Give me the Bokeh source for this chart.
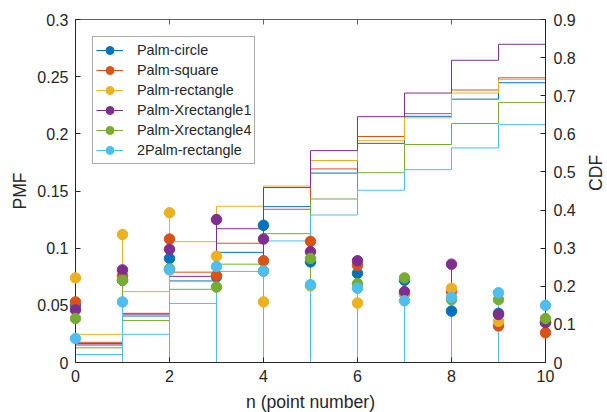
import math
from bokeh.plotting import figure
from bokeh.models import (LinearAxis, Range1d, FixedTicker, CustomJSTickFormatter,
                          Legend, LegendItem, ColumnDataSource)
from bokeh.embed import file_html
from bokeh.resources import INLINE

n = [0, 1, 2, 3, 4, 5, 6, 7, 8, 9, 10]

names = ["Palm-circle", "Palm-square", "Palm-rectangle",
         "Palm-Xrectangle1", "Palm-Xrectangle4", "2Palm-rectangle"]
colors = ["#0072BD", "#D95319", "#EDB120", "#7E2F8E", "#77AC30", "#4DBEEE"]

pmf_circle = [0.050, 0.072, 0.091, 0.075, 0.120, 0.088, 0.078, 0.072, 0.045, 0.043, 0.035]
pmf_square = [0.053, 0.076, 0.108, 0.076, 0.089, 0.106, 0.085, 0.060, 0.062, 0.032, 0.026]
pmf_rect = [0.074, 0.112, 0.131, 0.093, 0.053, 0.067, 0.052, 0.060, 0.065, 0.036, 0.037]
pmf_xrect1 = [0.046, 0.081, 0.099, 0.125, 0.108, 0.097, 0.089, 0.062, 0.086, 0.042, 0.035]
pmf_xrect4 = [0.0385, 0.072, 0.082, 0.066, 0.080, 0.091, 0.069, 0.074, 0.055, 0.055, 0.0385]
pmf_2palm = [0.021, 0.053, 0.081, 0.084, 0.080, 0.068, 0.065, 0.054, 0.057, 0.061, 0.050]

cdf_circle = [0.050, 0.122, 0.214, 0.289, 0.409, 0.497, 0.575, 0.646, 0.691, 0.734, 0.769]
cdf_square = [0.053, 0.129, 0.237, 0.313, 0.402, 0.508, 0.593, 0.653, 0.715, 0.747, 0.773]
cdf_rect = [0.074, 0.186, 0.317, 0.410, 0.463, 0.530, 0.582, 0.642, 0.707, 0.743, 0.780]
cdf_xrect1 = [0.046, 0.127, 0.226, 0.351, 0.459, 0.556, 0.645, 0.707, 0.793, 0.835, 0.870]
cdf_xrect4 = [0.0385, 0.110, 0.192, 0.258, 0.338, 0.429, 0.498, 0.572, 0.627, 0.682, 0.720]
cdf_2palm = [0.021, 0.074, 0.155, 0.239, 0.319, 0.387, 0.452, 0.506, 0.563, 0.624, 0.674]

x_ticks = [0, 2, 4, 6, 8, 10]
pmf_ticks = [0, 0.05, 0.1, 0.15, 0.2, 0.25, 0.3]
cdf_ticks = [0, 0.1, 0.2, 0.3, 0.4, 0.5, 0.6, 0.7, 0.8, 0.9]

pmfs = [pmf_circle, pmf_square, pmf_rect, pmf_xrect1, pmf_xrect4, pmf_2palm]
cdfs = [cdf_circle, cdf_square, cdf_rect, cdf_xrect1, cdf_xrect4, cdf_2palm]

FONT = "Liberation Sans"
TXT = "#262626"

p = figure(frame_width=470, frame_height=343,
           min_border_left=75, min_border_right=62, min_border_top=19, min_border_bottom=50,
           x_range=Range1d(0, 10), y_range=Range1d(0, 0.3),
           output_backend="svg", toolbar_location=None)
p.extra_y_ranges = {"cdf": Range1d(0, 0.9)}
p.grid.visible = False
p.outline_line_color = None
p.background_fill_color = "white"
p.border_fill_color = "white"


def style_axis(ax, color=TXT):
    ax.axis_line_color = color
    ax.major_tick_line_color = color
    ax.major_tick_in = 5
    ax.major_tick_out = 0
    ax.minor_tick_line_color = None
    ax.major_label_text_font = FONT
    ax.major_label_text_font_size = "16px"
    ax.major_label_text_color = TXT
    ax.axis_label_text_font = FONT
    ax.axis_label_text_font_size = "17.6px"
    ax.axis_label_text_font_style = "normal"
    ax.axis_label_text_color = TXT


xa = p.below[0]
xa.ticker = FixedTicker(ticks=x_ticks)
xa.axis_label = "n (point number)"
style_axis(xa)
xa.major_label_standoff = 7
xa.axis_label_standoff = 7

ya = p.left[0]
ya.ticker = FixedTicker(ticks=pmf_ticks)
ya.formatter = CustomJSTickFormatter(code="return String(Math.round(tick*100)/100);")
ya.axis_label = "PMF"
style_axis(ya)
ya.major_label_standoff = 7
ya.axis_label_standoff = 4

ra = LinearAxis(y_range_name="cdf", ticker=FixedTicker(ticks=cdf_ticks),
                formatter=CustomJSTickFormatter(code="return String(Math.round(tick*10)/10);"),
                axis_label="CDF")
style_axis(ra)
ra.major_label_standoff = 8
ra.axis_label_standoff = 17
ra.axis_label_orientation = math.pi / 2
p.add_layout(ra, "right")

ta = LinearAxis(ticker=FixedTicker(ticks=x_ticks),
                formatter=CustomJSTickFormatter(code="return '';"))
style_axis(ta, "#606060")
ta.major_label_standoff = 0
ta.major_label_text_font_size = "1px"
p.add_layout(ta, "above")

items = []
# stairs (CDF)
for name, c, pm, cd in zip(names, colors, pmfs, cdfs):
    src = ColumnDataSource(dict(n=n, pmf=pm, cdf=cd))
    p.step(x="n", y="cdf", mode="after", y_range_name="cdf", source=src,
           line_color=c, line_width=1)

# stems + markers (PMF)
for name, c, pm, cd in zip(names, colors, pmfs, cdfs):
    src = ColumnDataSource(dict(n=n, pmf=pm, cdf=cd))
    seg = p.segment(x0="n", y0=0, x1="n", y1="pmf", source=src,
                    line_color=c, line_width=1)
    sc = p.scatter(x="n", y="pmf", source=src, size=10.5, marker="circle",
                   fill_color=c, line_color=c, level="overlay")
    items.append(LegendItem(label=name, renderers=[seg, sc]))

legend = Legend(items=items, location="top_left", margin=17, padding=3,
                spacing=0, label_height=20, glyph_height=20, glyph_width=27,
                label_standoff=14,
                label_text_font=FONT, label_text_font_size="14.4px",
                label_text_color=TXT,
                border_line_color="#555555", border_line_width=1,
                background_fill_color="white", background_fill_alpha=1)
p.add_layout(legend)

open("out.html", "w").write(file_html(p, INLINE))
